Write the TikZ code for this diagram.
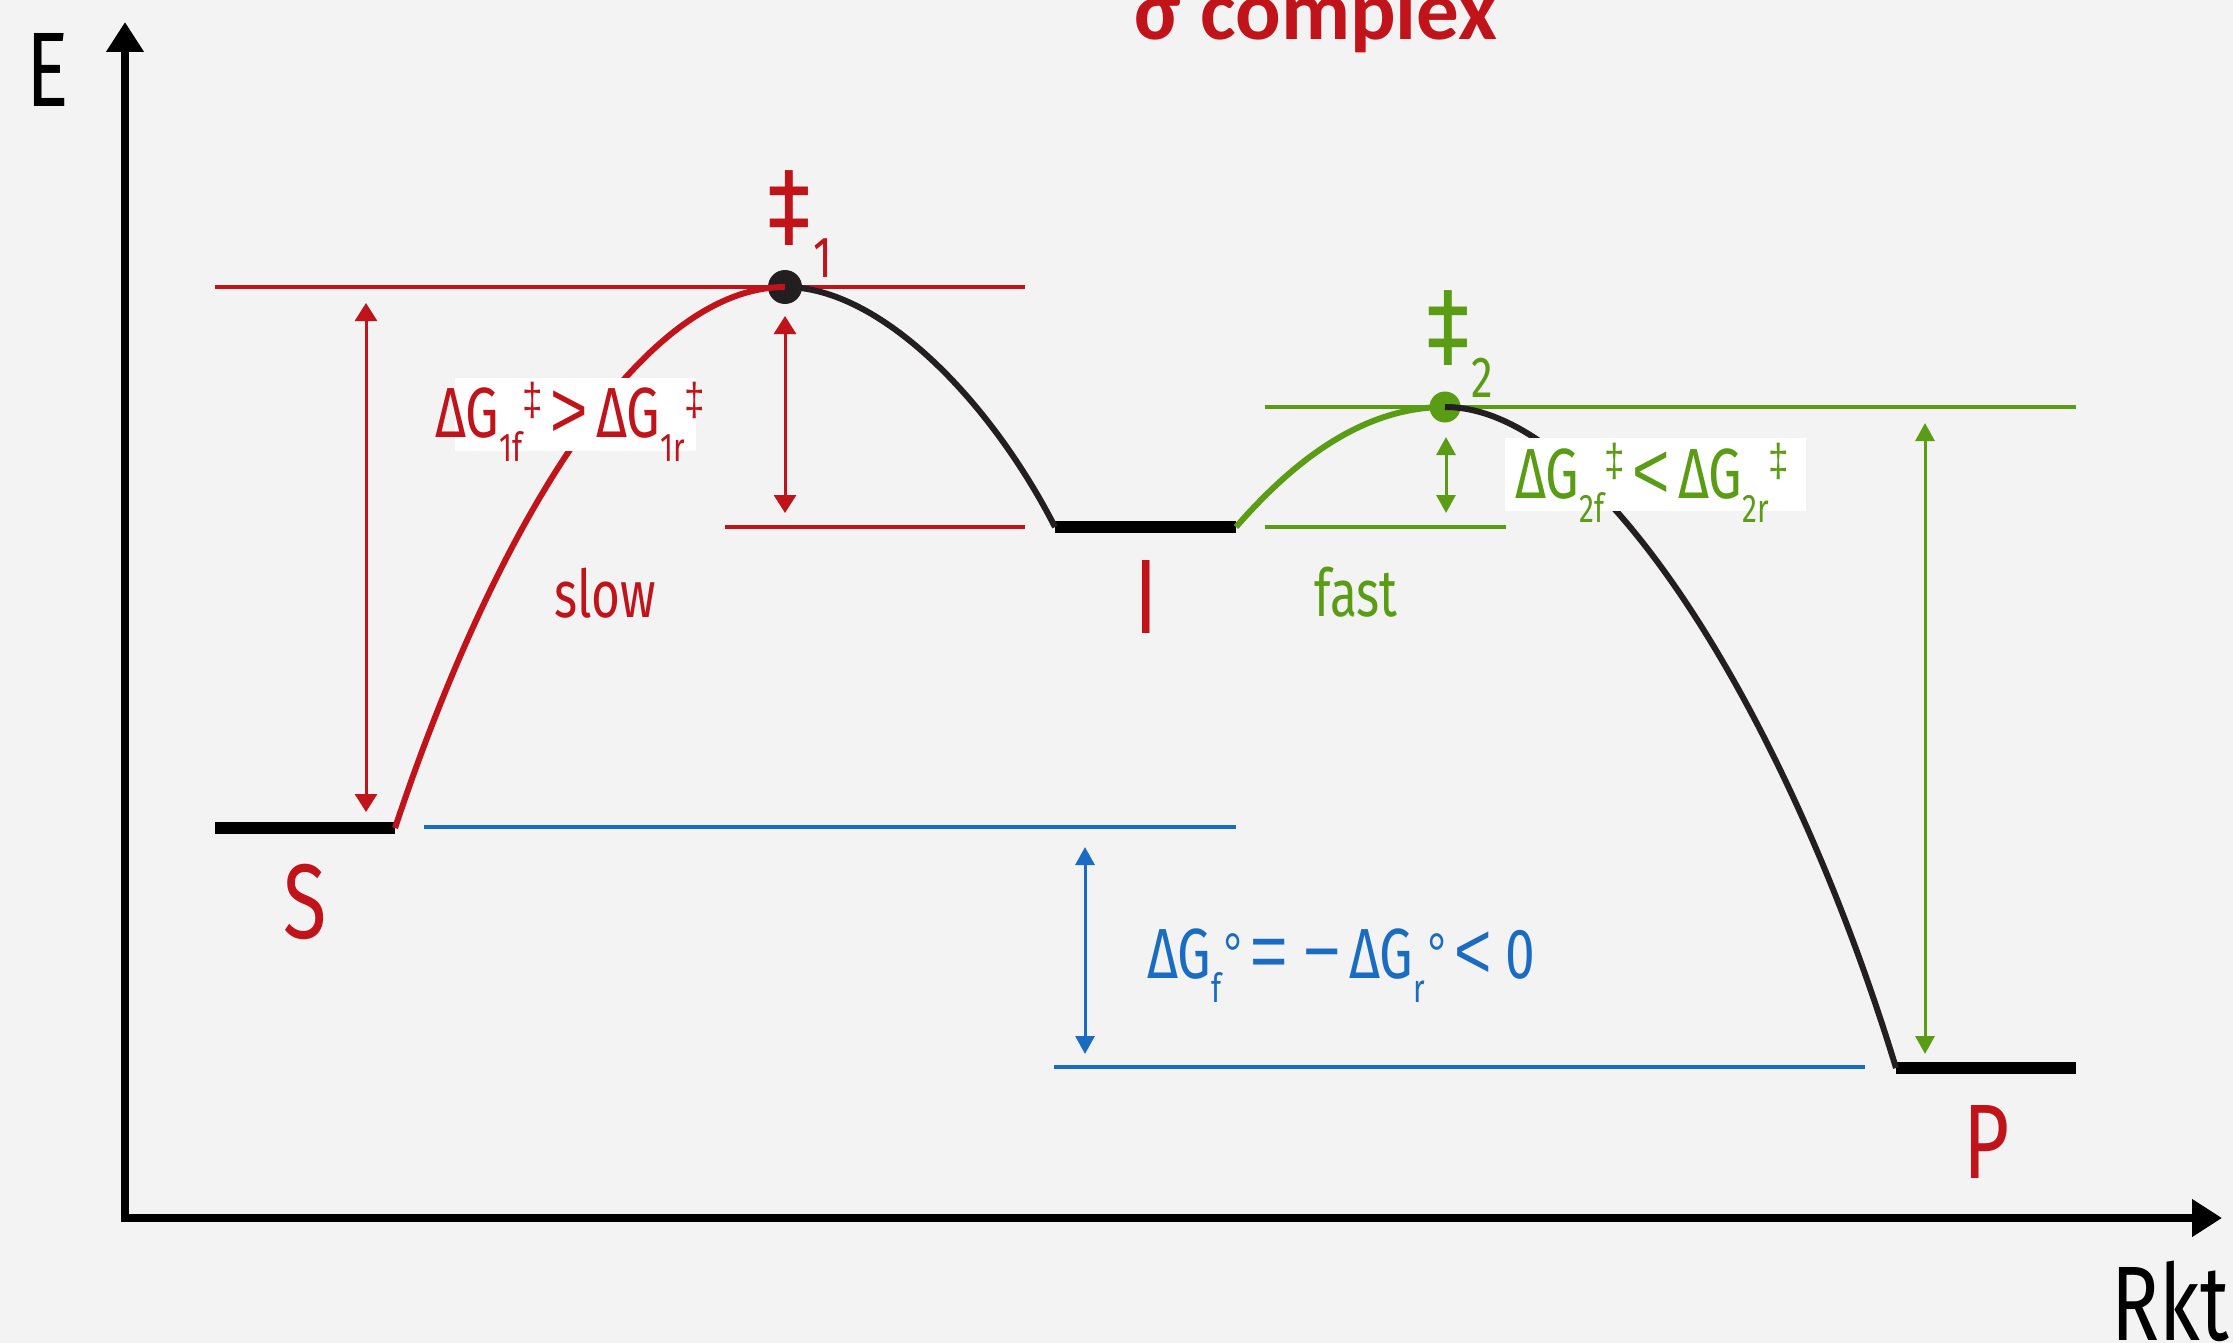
\documentclass[tikz,border=0pt]{standalone}
\usepackage{fontspec}
\setmainfont{Fira Sans}[FakeStretch=0.75]
\newfontfamily\opfont{Liberation Sans}[FakeStretch=0.8]
\newfontfamily\dgfont{Fira Sans}[FakeStretch=0.8]
\newfontfamily\titlefont{Carlito}
\usetikzlibrary{arrows.meta}
\definecolor{bg}{HTML}{F3F3F3}
\definecolor{rc}{HTML}{C0141A}
\definecolor{gc}{HTML}{5A9C14}
\definecolor{bc}{HTML}{1A6CC2}
\definecolor{kc}{HTML}{231F20}
\newcommand\lo[1]{\raisebox{-24pt}{\fontsize{40}{40}\selectfont #1}}
\newcommand\dg[1]{\raisebox{22pt}{\opfont\fontsize{46}{46}\selectfont #1}}
\newcommand\degr{\hspace{2pt}\raisebox{3pt}{\opfont\fontsize{60}{60}\selectfont °}}
\newcommand\op[1]{\hspace{8pt}{\opfont\fontsize{80}{80}\selectfont #1}\hspace{8pt}}
\begin{document}
\begin{tikzpicture}[x=1pt,y=-1pt,
  lvl/.style={line width=12pt,black},
  thinln/.style={line width=3.5pt},
  curve/.style={line width=6pt},
  dbl/.style={line width=3pt,{Triangle[width=22pt,length=18pt]}-{Triangle[width=22pt,length=18pt]}},
  sdbl/.style={line width=3pt,{Triangle[width=19pt,length=18pt]}-{Triangle[width=19pt,length=18pt]}},
  axis/.style={line width=8pt,-{Triangle[width=36pt,length=30pt]}},
  lbl/.style={inner sep=0pt,anchor=base west,font=\fontsize{71}{71}\selectfont},
  big/.style={inner sep=0pt,font=\fontsize{106}{106}\selectfont}]
\fill[bg] (0,0) rectangle (2233,1343);
\useasboundingbox (0,0) rectangle (2233,1343);
% coordinates
\coordinate (S1) at (215,828); \coordinate (S2) at (395,828);
\coordinate (TS1) at (785,287);
\coordinate (I1) at (1055,527); \coordinate (I2) at (1236,527);
\coordinate (TS2) at (1445,407);
\coordinate (P1) at (1896,1068); \coordinate (P2) at (2076,1068);
\coordinate (Ybot) at (125,1222); \coordinate (Ytip) at (125,22);
\coordinate (Xbot) at (121,1218); \coordinate (Xtip) at (2222,1218);
% axes
\draw[axis] (Ybot) -- (Ytip);
\draw[axis] (Xbot) -- (Xtip);
% thin reference lines
\coordinate (r1a) at (215,287); \coordinate (r1b) at (1025,287);
\coordinate (r2a) at (725,527); \coordinate (r2b) at (1025,527);
\coordinate (g1a) at (1265,407); \coordinate (g1b) at (2076,407);
\coordinate (g2a) at (1265,527); \coordinate (g2b) at (1506,527);
\coordinate (b1a) at (424,827); \coordinate (b1b) at (1236,827);
\coordinate (b2a) at (1054,1067); \coordinate (b2b) at (1865,1067);
\draw[thinln,rc] (r1a) -- (r1b);
\draw[thinln,rc] (r2a) -- (r2b);
\draw[thinln,gc] (g1a) -- (g1b);
\draw[thinln,gc] (g2a) -- (g2b);
\draw[thinln,bc] (b1a) -- (b1b);
\draw[thinln,bc] (b2a) -- (b2b);
% double arrows
\coordinate (ra1) at (366,303); \coordinate (ra2) at (366,812);
\coordinate (rb1) at (785,316); \coordinate (rb2) at (785,513);
\coordinate (ba1) at (1085,847); \coordinate (ba2) at (1085,1054);
\coordinate (ga1) at (1446,437); \coordinate (ga2) at (1446,513);
\coordinate (gb1) at (1925,423); \coordinate (gb2) at (1925,1054);
\draw[dbl,rc] (ra1) -- (ra2);
\draw[dbl,rc] (rb1) -- (rb2);
\draw[sdbl,bc] (ba1) -- (ba2);
\draw[sdbl,gc] (ga1) -- (ga2);
\draw[sdbl,gc] (gb1) -- (gb2);
% levels
\draw[lvl] (S1) -- (S2);
\draw[lvl] (I1) -- (I2);
\draw[lvl] (P1) -- (P2);
% dots
\fill[kc] (TS1) circle (17);
\fill[gc] (TS2) circle (15.5);
% curves
\draw[curve,rc] (S2) .. controls (495,528) and (640,287) .. (TS1);
\draw[curve,kc] (TS1) .. controls (880,287) and (990,400) .. (I1);
\draw[curve,gc] (I2) .. controls (1290,465) and (1360,407) .. (TS2);
\draw[curve,kc] (TS2) .. controls (1600,407) and (1790,720) .. (P1);
% label boxes
\fill[white] (455,378) rectangle (696,451);
\fill[white] (1505,438) rectangle (1806,511);
% labels
\node[lbl,text=rc] (l1) at (435,437) {ΔG\lo{1f}\dg{‡}\op{>}ΔG\lo{1r}\dg{‡}};
\node[lbl,text=gc] (l2) at (1515,498) {ΔG\lo{2f}\dg{‡}\op{<}ΔG\lo{2r}\dg{‡}};
\node[lbl,text=bc] (l3) at (1147,978) {ΔG\lo{f}\degr\op{=}\op{−}ΔG\lo{r}\degr\op{<}\hspace{6pt}0};
\node[inner sep=0pt,anchor=base,text=rc,font=\fontsize{66}{66}\selectfont] (slow) at (605,617) {slow};
\node[inner sep=0pt,anchor=base,text=gc,font=\fontsize{66}{66}\selectfont] (fast) at (1356,616) {fast};
\node[inner sep=0pt,text=rc,font=\dgfont\fontsize{112}{112}\selectfont] (dg1) at (789,208) {‡};
\node[inner sep=0pt,anchor=south west,text=rc,font=\fontsize{58}{58}\selectfont] (dg1n) at (813,278) {1};
\node[inner sep=0pt,text=gc,font=\dgfont\fontsize{112}{112}\selectfont] (dg2) at (1448,328) {‡};
\node[inner sep=0pt,anchor=south west,text=gc,font=\fontsize{58}{58}\selectfont] (dg2n) at (1471,398) {2};
\node[big] (E) at (48,70) {E};
\node[big] (Rkt) at (2170,1301) {Rkt};
\node[big,text=rc] (S) at (305,902) {S};
\node[big,text=rc] (I) at (1146,597) {I};
\node[big,text=rc] (P) at (1987,1142) {P};
\node[inner sep=0pt,anchor=base,text=rc,font=\titlefont\bfseries\fontsize{85}{85}\selectfont] (title) at (1316,40) {σ complex};
\end{tikzpicture}
\end{document}
